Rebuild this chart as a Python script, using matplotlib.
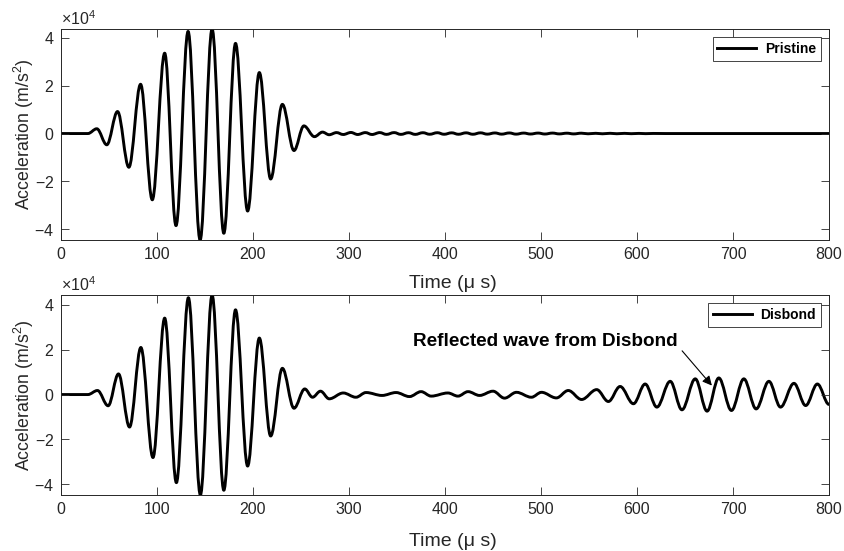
import matplotlib
matplotlib.use("Agg")
import matplotlib.pyplot as plt
from matplotlib.path import Path
from matplotlib.patches import PathPatch
from matplotlib.lines import Line2D
from matplotlib.ticker import ScalarFormatter

plt.rcParams['font.family'] = ['Liberation Sans', 'DejaVu Sans']
plt.rcParams['mathtext.fontset'] = 'custom'
plt.rcParams['mathtext.rm'] = 'Liberation Sans'
plt.rcParams['axes.unicode_minus'] = False

# ---- data: wave extrema (time in us, acceleration in m/s^2) ----
pristine_t = [0, 28, 37.3, 47.7, 58.9, 70.7, 82.9, 95.1, 108.0, 119.8, 132.4, 144.9,
              157.4, 169.6, 181.8, 194.4, 206.6, 218.4, 230.6, 242.7, 253.0, 264.0,
              272.4, 279.3, 287, 294, 302, 309, 317, 324, 332, 339, 347, 354, 362,
              369, 377, 384, 392, 399, 407, 414, 422, 429, 437, 444, 452, 459, 467,
              474, 482, 489, 497, 504, 512, 519, 527, 534, 542, 549, 557, 564, 572,
              579, 587, 594, 602, 609, 617, 630, 800]
pristine_a = [0, 0, 2000, -4700, 9200, -14100, 20600, -27700, 33600, -38500, 42700, -44500,
              43700, -41700, 37700, -32400, 25500, -19000, 12200, -7100, 3200, -1300,
              600, -500, 400, -400, 450, -400, 400, -400, 400, -350, 400, -350, 350,
              -350, 350, -300, 350, -300, 300, -300, 300, -300, 300, -250, 250, -250, 250,
              -250, 200, -200, 200, -200, 200, -150, 150, -150, 150, -100, 100, -100, 100,
              -80, 80, -60, 60, -40, 40, 0, 0]

disbond_t = [0, 28, 38.0, 49.1, 59.9, 71.4, 83.2, 95.8, 108.0, 120.2, 132.7, 145.2,
             157.4, 169.6, 181.8, 194.4, 206.6, 218.4, 230.6, 242.7, 253.9, 262.0,
             270.3, 279.4, 294.0, 307.2, 317.7, 334.4, 349.0, 363.0, 375.1, 385.6,
             403.0, 413.5, 424.0, 436.0, 450.0, 462.0, 474.4, 490.0, 500.5, 516.0,
             528.4, 542.3, 558.0, 570.2, 582.4, 596.3, 608.5, 620.7, 634.6, 646.8,
             660.7, 673.0, 685.2, 698.4, 711.3, 724.1, 737.4, 749.5, 763.5, 775.7,
             787.9, 800.0]
disbond_a = [0, 0, 1800, -5000, 9200, -14500, 21000, -28100, 34100, -39300, 43200, -44800,
             44400, -42700, 37800, -31900, 25200, -18500, 11700, -6100, 2500, -1200,
             1500, -1900, 700, -1200, 900, -400, 900, -900, 1300, -700,
             700, -700, 1300, -400, 1500, -1600, 1000, -1200, 1000, -1500,
             1800, -2200, 2200, -3100, 3600, -4100, 4700, -5600, 5900, -6800,
             7000, -7400, 7400, -7100, 7000, -6400, 5900, -5600, 5000, -4900,
             4700, -4400]

legend_labels = ['Pristine', 'Disbond']
annotation_text = 'Reflected wave from Disbond'
xticks = [0, 100, 200, 300, 400, 500, 600, 700, 800]
yticks = [-40000, -20000, 0, 20000, 40000]

W, H = 845, 551
fig = plt.figure(figsize=(W / 100, H / 100), dpi=100)
gray = '0.15'


def wave_path(t, a, k=0.36):
    verts = [(t[0], a[0])]
    codes = [Path.MOVETO]
    for i in range(1, len(t)):
        dt = t[i] - t[i - 1]
        verts += [(t[i - 1] + k * dt, a[i - 1]), (t[i] - k * dt, a[i]), (t[i], a[i])]
        codes += [Path.CURVE4] * 3
    return Path(verts, codes)


def setup(ax, t, a, label, xlab_y):
    patch = PathPatch(wave_path(t, a), facecolor='none', edgecolor='black', lw=2.1,
                      capstyle='round', joinstyle='round')
    ax.add_patch(patch)
    ax.set_xlim(0, 800)
    ax.set_ylim(min(a), max(a))
    ax.set_xticks(xticks)
    ax.set_yticks(yticks)
    fmt = ScalarFormatter(useMathText=True)
    fmt.set_powerlimits((0, 0))
    ax.yaxis.set_major_formatter(fmt)
    ax.yaxis.get_offset_text().set_fontsize(11.5)
    ax.yaxis.get_offset_text().set_color(gray)
    ax.tick_params(direction='in', top=True, right=True, length=6, width=0.6,
                   labelsize=11.5, colors=gray, pad=5)
    for s in ax.spines.values():
        s.set_color(gray)
        s.set_linewidth(0.7)
    ax.set_xlabel('Time (μ s)', fontsize=14, color=gray)
    ax.xaxis.set_label_coords(0.51, xlab_y)
    ax.set_ylabel('Acceleration (m/s$^2$)', fontsize=12.8, color=gray)
    ax.yaxis.set_label_coords(-0.032, 0.5)
    h = Line2D([], [], color='black', lw=2.1)
    leg = ax.legend([h], [label], loc='upper right', fancybox=False, framealpha=1,
                    edgecolor=gray, prop={'weight': 'bold', 'size': 10},
                    handlelength=2.8, borderaxespad=0.6, borderpad=0.35,
                    handletextpad=0.6)
    leg.get_frame().set_linewidth(0.6)


ax1 = fig.add_axes([61 / W, 1 - 240 / H, 768 / W, 211 / H])
setup(ax1, pristine_t, pristine_a, legend_labels[0], -0.168)

ax2 = fig.add_axes([61 / W, 1 - 495 / H, 768 / W, 200 / H])
setup(ax2, disbond_t, disbond_a, legend_labels[1], -0.19)

ax2.text(505, 23500, annotation_text, fontsize=13.6, fontweight='bold',
         ha='center', va='center', color='black')
ax2.annotate('', xy=(678, 4000), xytext=(647, 19500),
             arrowprops=dict(arrowstyle='-|>', color='black', lw=0.8,
                             mutation_scale=14, shrinkA=0, shrinkB=0))

fig.savefig('out.png', dpi=100)
